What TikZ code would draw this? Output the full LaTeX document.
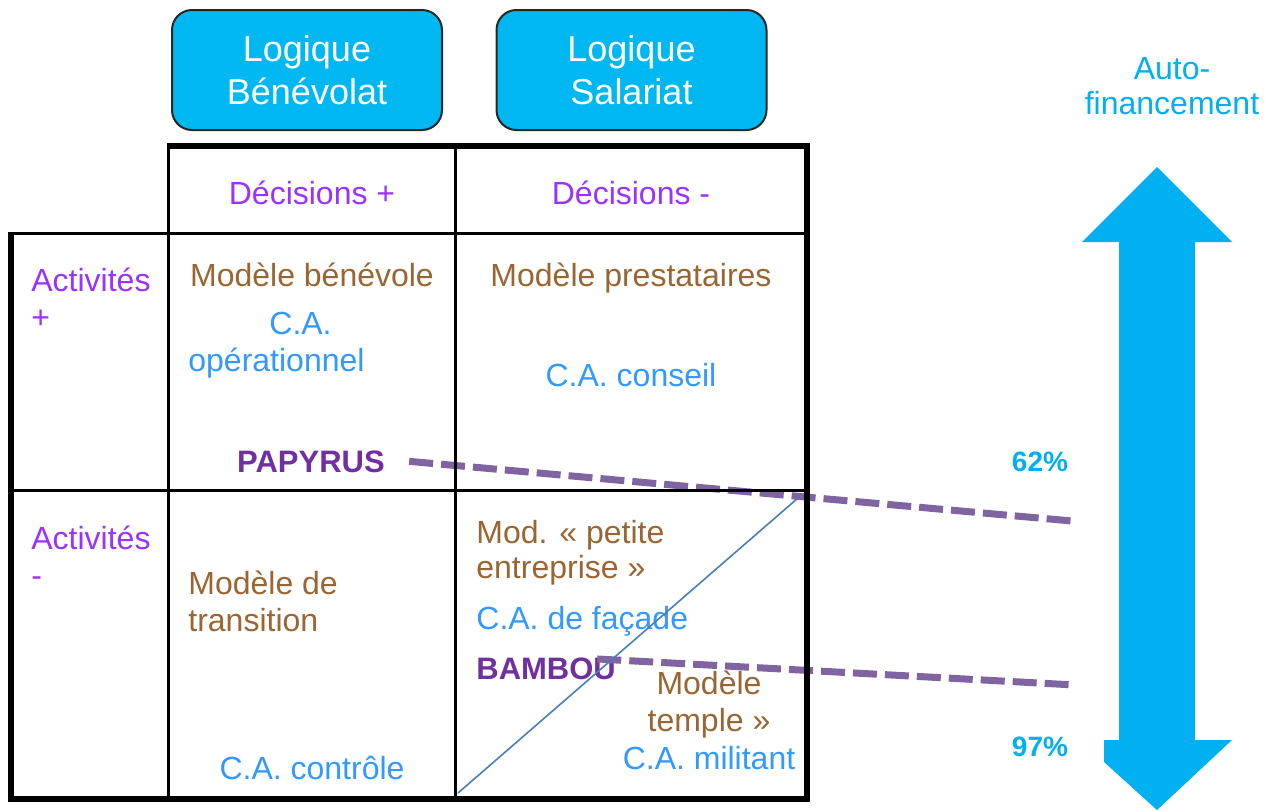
\documentclass[tikz,border=0pt]{standalone}
\usepackage{fontspec}
\setmainfont{Liberation Sans}
\definecolor{boxcyan}{RGB}{0,184,241}
\definecolor{arrowcyan}{RGB}{0,176,240}
\definecolor{decpurple}{RGB}{153,51,255}
\definecolor{modbrown}{RGB}{153,102,51}
\definecolor{cablue}{RGB}{51,153,255}
\definecolor{namepurple}{RGB}{112,48,160}
\definecolor{trendpurple}{RGB}{128,100,162}
\definecolor{diagblue}{RGB}{74,126,187}
\tikzset{
  hdr/.style={draw=black!85, line width=1pt, fill=boxcyan, rounded corners=10pt,
    minimum width=135pt, minimum height=60pt, text=white, align=center,
    font=\fontsize{18}{21.5}\selectfont, inner sep=0pt},
  txt/.style={inner sep=0pt, font=\fontsize{16}{18.5}\selectfont},
  dec/.style={txt, text=decpurple},
  modl/.style={txt, text=modbrown},
  ca/.style={txt, text=cablue},
  orgname/.style={inner sep=0pt, text=namepurple, font=\bfseries\fontsize{15.5}{18}\selectfont},
  pct/.style={inner sep=0pt, text=arrowcyan, font=\bfseries\fontsize{14}{16}\selectfont},
  trend/.style={draw=trendpurple, line width=3.5pt, dash pattern=on 12pt off 4pt},
  gridln/.style={draw=black, line width=1.5pt},
  frameln/.style={draw=black, line width=2.85pt, line join=miter},
  diag/.style={draw=diagblue, line width=0.8pt}
}
\begin{document}
\begin{tikzpicture}[x=0.5pt,y=-0.5pt]
\useasboundingbox (0,0) rectangle (1274,810);
% header boxes
\node[hdr] (hb) at (307,70) {Logique\\Bénévolat};
\node[hdr] (hs) at (631.5,70) {Logique\\Salariat};
% auto-financement arrow
\fill[arrowcyan] (1157,167) -- (1232,242) -- (1195,242) -- (1195,740) -- (1232,740)
  -- (1157,810) -- (1104,762) -- (1104,740) -- (1119,740) -- (1119,242) -- (1082,242) -- cycle;
\node[txt, text=arrowcyan, anchor=base, align=center, font=\fontsize{16}{17.5}\selectfont] (af) at (1172,114) {Auto-\\financement};
\node[pct, anchor=base] (p62) at (1040,471) {62\%};
\node[pct, anchor=base] (p97) at (1040,756) {97\%};
% texts in table
\node[dec, anchor=base] (d1) at (312,204) {Décisions +};
\node[dec, anchor=base] (d2) at (631,204) {Décisions -};
\node[dec, anchor=base west, align=left] (a1) at (31,328) {Activités\\+};
\node[dec, anchor=base west, align=left] (a2) at (31,586) {Activités\\-};
\node[modl, anchor=base] (m1) at (312,286) {Modèle bénévole};
\node[ca, anchor=base west, align=left] (c1) at (188,371) {\hspace*{40.5pt}C.A.\\opérationnel};
\node[modl, anchor=base] (m2) at (631,286) {Modèle prestataires};
\node[ca, anchor=base] (c2) at (631,386) {C.A. conseil};
\node[orgname, anchor=base] (pap) at (311,472) {PAPYRUS};
\node[modl, anchor=base west, align=left] (m3) at (188,631) {Modèle de\\transition};
\node[ca, anchor=base] (c3) at (312,779) {C.A. contrôle};
\node[modl, anchor=base west, align=left, font=\fontsize{16}{17.5}\selectfont] (m4) at (476,578) {Mod. «~petite\\entreprise~»};
\node[ca, anchor=base west] (c4) at (476,629) {C.A. de façade};
\node[orgname, anchor=base west] (bam) at (476,679) {BAMBOU};
\node[modl, anchor=base, align=center] (m5) at (709,731) {Modèle\\temple »};
\node[ca, anchor=base] (c5) at (709,769) {C.A. militant};
% trend lines
\coordinate (pe) at (1072,521);
\coordinate (be) at (1075,685);
\draw[trend] ([xshift=12pt]pap.east) -- (pe);
\draw[trend] ([xshift=-9.5pt,yshift=-1pt]bam.north east) -- (be);
% diagonal
\coordinate (dg1) at (458,793);
\coordinate (dg2) at (798,498);
\draw[diag] (dg1) -- (dg2);
% table grid
\draw[gridln] (11,233) -- (808,233);
\draw[gridln] (11,490) -- (808,490);
\draw[gridln] (168,146) -- (168,799);
\draw[gridln] (455,146) -- (455,799);
\draw[frameln] (166.5,146) -- (807,146) -- (807,799) -- (11,799) -- (11,231.5);
\end{tikzpicture}
\end{document}
